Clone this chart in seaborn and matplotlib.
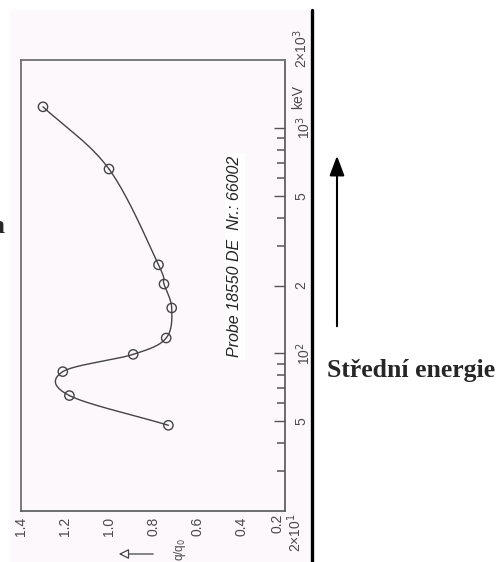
import numpy as np
import pandas as pd
import matplotlib
matplotlib.use("Agg")
import matplotlib.pyplot as plt
import seaborn as sns
from matplotlib.patches import Rectangle
from matplotlib.lines import Line2D

# measured points (energy in keV, ratio q/q0)
energy = [48, 65, 83, 99, 117, 159, 203, 247, 657, 1240]
ratio = [0.73, 1.18, 1.21, 0.89, 0.74, 0.715, 0.75, 0.775, 1.00, 1.30]

q_ticks = [1.4, 1.2, 1.0, 0.8, 0.6, 0.4, 0.2]
q_labels = ["1.4", "1.2", "1.0", "0.8", "0.6", "0.4", ""]
e_ticks = [50, 100, 200, 500, 1000]
e_labels = ["5", "10$^2$", "2", "5", "10$^3$"]
e_minor = [30, 40, 60, 70, 80, 90, 300, 400, 600, 700, 800, 900]

df = pd.DataFrame({"energy": energy, "ratio": ratio})

sns.set_style("white")
plt.rcParams["font.family"] = ["Liberation Sans", "DejaVu Sans"]

fig = plt.figure(figsize=(5.01, 5.62), dpi=100)
fig.patch.set_facecolor("white")
W, H = 501, 562

# scanned page area and dark edge line
bg = Rectangle((10 / W, 0), 302 / W, (H - 10) / H, transform=fig.transFigure,
               facecolor="#fcf8fc", edgecolor="none", zorder=-5)
fig.add_artist(bg)
fig.add_artist(Line2D([312 / W, 312 / W], [0, (H - 10) / H], transform=fig.transFigure,
                      color="black", lw=2.4, zorder=-4))

ax = fig.add_axes([21 / W, (H - 511) / H, 264 / W, 451 / H])
ax.set_facecolor("#fcf8fc")

# smooth curve through the points (Catmull-Rom in display space)
px = np.array(ratio) / 1.2 * 264
py = np.log10(energy) * 225.5
P = np.column_stack([px, py])
P = np.vstack([2 * P[0] - P[1], P, 2 * P[-1] - P[-2]])
curve = []
for i in range(1, len(P) - 2):
    p0, p1, p2, p3 = P[i - 1], P[i], P[i + 1], P[i + 2]
    for t in np.linspace(0, 1, 25):
        c = 0.5 * ((2 * p1) + (-p0 + p2) * t + (2 * p0 - 5 * p1 + 4 * p2 - p3) * t ** 2
                   + (-p0 + 3 * p1 - 3 * p2 + p3) * t ** 3)
        curve.append(c)
curve = np.array(curve)
cdf = pd.DataFrame({"ratio": curve[:, 0] * 1.2 / 264, "energy": 10 ** (curve[:, 1] / 225.5)})
ax.plot(cdf["ratio"], cdf["energy"], color="#444444", lw=1.0)

sns.scatterplot(data=df, x="ratio", y="energy", ax=ax, marker="o", s=45,
                facecolor="none", edgecolor="#444444", linewidth=1.0, zorder=3)

ax.set_yscale("log")
ax.set_ylim(20, 2000)
ax.set_xlim(1.4, 0.2)
ax.set_xlabel("")
ax.set_ylabel("")

for s in ["left", "top"]:
    ax.spines[s].set_color("#707070")
    ax.spines[s].set_linewidth(1.3)
for s in ["right", "bottom"]:
    ax.spines[s].set_color("#555555")
    ax.spines[s].set_linewidth(1.2)

fs = 10
lc = "#4a4a4a"
ax.set_xticks(q_ticks)
ax.set_xticklabels(q_labels, rotation=90, color=lc, fontsize=fs)
ax.tick_params(axis="x", direction="in", length=8, width=1, color="#555555", pad=4)

ax.yaxis.tick_right()
ax.set_yticks(e_ticks)
ax.set_yticklabels(e_labels, rotation=90, color=lc, fontsize=fs, va="center")
ax.set_yticks(e_minor, minor=True)
ax.tick_params(axis="y", which="major", direction="in", length=8, width=1,
               color="#555555", pad=7)
ax.tick_params(axis="y", which="minor", direction="in", length=6, width=1.1,
               color="#555555", labelright=False)

# corner labels and unit
tr = ax.get_yaxis_transform()
ax.text(0.2, -0.005, "0.2", transform=ax.get_xaxis_transform(), rotation=90,
        ha="right", va="top", fontsize=fs, color=lc)
ax.text(1.0, 19.5, "2×10$^1$", transform=tr, rotation=90, ha="left", va="top",
        fontsize=fs, color=lc)
ax.text(1.025, 2250, "2×10$^3$", transform=tr, rotation=90, ha="left", va="center",
        fontsize=fs, color=lc)
ax.text(1.025, 1370, "keV", transform=tr, rotation=90, ha="left", va="center",
        fontsize=fs, color=lc)

ax.text(0.81, 0.565, "Probe 18550 DE  Nr.: 66002", transform=ax.transAxes, rotation=90,
        ha="center", va="center", fontsize=11.5, style="italic", color="#222222",
        bbox=dict(facecolor="white", edgecolor="none", pad=2))

# axis label with arrow
fig.text(180 / W, 1 - 549 / H, "q/q$_0$", rotation=90, ha="center", va="center",
         fontsize=8.5, color=lc)
ax.annotate("", xy=(116 / W, 1 - 554 / H), xytext=(156 / W, 1 - 554 / H),
            xycoords="figure fraction", textcoords="figure fraction", annotation_clip=False,
            arrowprops=dict(arrowstyle="-|>,head_length=0.6,head_width=0.3",
                            fc="white", ec="#444444", lw=0.9))

# right side annotation
ax.annotate("", xy=(337 / W, 1 - 153 / H), xytext=(337 / W, 1 - 329 / H),
            xycoords="figure fraction", textcoords="figure fraction", annotation_clip=False,
            arrowprops=dict(arrowstyle="-|>,head_length=1.2,head_width=0.45",
                            fc="black", ec="black", lw=1.5))
fig.text(327 / W, 1 - 377 / H, "Střední energie", ha="left", va="baseline",
         fontsize=18.5, fontweight="bold", family=["Liberation Serif", "DejaVu Serif"])
fig.text(4 / W, 1 - 233 / H, "a", ha="right", va="baseline",
         fontsize=18.5, fontweight="bold", family=["Liberation Serif", "DejaVu Serif"])

fig.savefig("out.png", dpi=100)
